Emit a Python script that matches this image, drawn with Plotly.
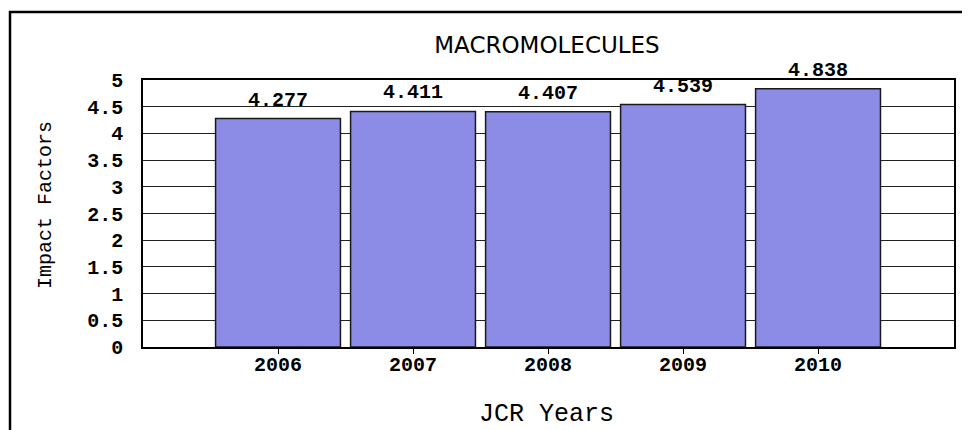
import plotly.graph_objects as go

years = ["2006", "2007", "2008", "2009", "2010"]
impact = [4.277, 4.411, 4.407, 4.539, 4.838]
labels = ["4.277", "4.411", "4.407", "4.539", "4.838"]
y_ticks = [0, 0.5, 1, 1.5, 2, 2.5, 3, 3.5, 4, 4.5, 5]
y_tick_text = ["0", "0.5", "1", "1.5", "2", "2.5", "3", "3.5", "4", "4.5", "5"]

mono = "Liberation Mono"
tick_font = dict(family=mono, size=20, color="black", weight="bold")

fig = go.Figure(go.Bar(
    x=list(range(len(years))), y=impact,
    cliponaxis=False,
    marker=dict(color="#8c8ce6", line=dict(color="#1a1a1a", width=1.5)),
    width=0.925,
))

for i, (v, t) in enumerate(zip(impact, labels)):
    fig.add_annotation(x=i, y=v, text=t, showarrow=False, yanchor="bottom",
                       yshift=5, font=tick_font)

fig.update_layout(
    width=970, height=430,
    margin=dict(l=135, r=24, t=72, b=91),
    paper_bgcolor="white", plot_bgcolor="white",
    showlegend=False,
    title=dict(text="MACROMOLECULES", x=(547 - 8) / 970, xanchor="center",
               y=1 - 37 / 430, yanchor="middle",
               font=dict(family="DejaVu Sans", size=23, color="black")),
    xaxis=dict(range=[-1, 5.007], tickvals=list(range(len(years))), ticktext=years,
               ticks="outside", ticklen=5, tickcolor="black",
               showline=True, linecolor="black", linewidth=1.5, mirror=True,
               showgrid=False, zeroline=False, tickfont=tick_font,
               ticklabelstandoff=-7),
    yaxis=dict(range=[0, 5], tickvals=y_ticks, ticktext=y_tick_text,
               showline=True, linecolor="black", linewidth=1.5, mirror=True,
               showgrid=True, gridcolor="#222222", gridwidth=1, zeroline=False,
               ticks="", ticklabelstandoff=14, tickfont=tick_font),
    bargap=0.075,
)

fig.add_annotation(text="JCR Years", xref="paper", yref="paper",
                   x=(538 - 135) / 811, y=(339 - 406) / 267,
                   xanchor="center", yanchor="middle", showarrow=False,
                   font=dict(family=mono, size=25, color="black"))
fig.add_annotation(text="Impact Factors", xref="paper", yref="paper",
                   x=(37 - 135) / 811, y=(339 - 197) / 267, textangle=-90,
                   xanchor="center", yanchor="middle", showarrow=False,
                   font=dict(family=mono, size=20, color="black"))

fig.add_shape(type="rect", xref="paper", yref="paper",
              x0=(2 - 135) / 811, x1=1.1, y0=-0.6, y1=(339 - 4) / 267,
              line=dict(color="black", width=2.5), fillcolor="rgba(0,0,0,0)", layer="above")

fig.write_html("out.html")
